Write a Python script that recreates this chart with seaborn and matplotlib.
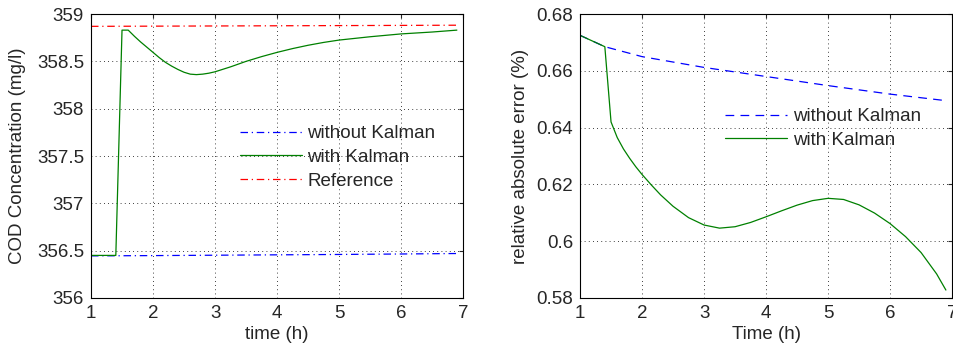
import numpy as np
import pandas as pd
import seaborn as sns
import matplotlib.pyplot as plt

# COD concentration (left panel)
t_cod = [1.0, 1.4, 1.5, 1.6, 1.7, 1.8, 1.9, 2.0, 2.1, 2.2, 2.3, 2.4, 2.5, 2.6, 2.7, 2.8, 2.9, 3.0, 3.25, 3.5,
         3.75, 4.0, 4.25, 4.5, 4.75, 5.0, 5.5, 6.0, 6.5, 6.9]
cod_kalman = [356.45, 356.45, 358.83, 358.83, 358.765, 358.705, 358.65, 358.595, 358.54, 358.49, 358.45, 358.415, 358.385,
              358.365, 358.36, 358.365, 358.375, 358.39, 358.442, 358.50, 358.55, 358.595, 358.635, 358.67, 358.70,
              358.725, 358.76, 358.79, 358.81, 358.83]
t_line = [1.0, 2.0, 3.0, 4.0, 5.0, 6.0, 6.9]
cod_without = [356.445, 356.448, 356.452, 356.456, 356.46, 356.465, 356.47]
cod_reference = [358.87, 358.872, 358.874, 358.876, 358.878, 358.88, 358.882]

# relative absolute error (right panel)
t_err = [1.0, 1.4, 1.5, 1.6, 1.7, 1.8, 1.9, 2.0, 2.15, 2.3, 2.5, 2.75, 3.0, 3.25, 3.5, 3.75, 4.0, 4.25, 4.5,
         4.75, 5.0, 5.25, 5.5, 5.75, 6.0, 6.25, 6.5, 6.75, 6.9]
err_kalman = [0.6725, 0.6685, 0.642, 0.6365, 0.6325, 0.6292, 0.6262, 0.6235, 0.6198, 0.6163, 0.6123, 0.6083, 0.6057,
              0.6046, 0.6051, 0.6066, 0.6086, 0.6107, 0.6127, 0.6143, 0.6151, 0.6147, 0.6128, 0.6099, 0.6062,
              0.6016, 0.596, 0.5885, 0.5828]
t_err2 = [1.0, 1.4, 2.0, 3.0, 4.0, 5.0, 6.0, 6.9]
err_without = [0.6725, 0.6685, 0.665, 0.6612, 0.658, 0.6548, 0.6518, 0.6495]

sns.set_style("white")
plt.rcParams['font.family'] = ['Liberation Sans', 'DejaVu Sans']
fs = 13.5

fig = plt.figure(figsize=(9.54, 3.51), dpi=100)
ax1 = fig.add_axes([0.0954, 0.151, 0.39, 0.809])
ax2 = fig.add_axes([0.608, 0.151, 0.39, 0.809])

sns.lineplot(x=t_line, y=cod_without, ax=ax1, color='blue', lw=0.9, label='without Kalman')
sns.lineplot(x=t_cod, y=cod_kalman, ax=ax1, color='green', lw=0.9, label='with Kalman')
sns.lineplot(x=t_line, y=cod_reference, ax=ax1, color='red', lw=0.9, label='Reference')
ax1.lines[0].set_dashes([6, 3, 1, 3])
ax1.lines[2].set_dashes([6, 3, 1, 3])
ax1.set_ylim(356, 359)
ax1.set_yticks([356, 356.5, 357, 357.5, 358, 358.5, 359])
ax1.set_yticklabels(['356', '356.5', '357', '357.5', '358', '358.5', '359'])
ax1.set_xlabel('time (h)')
ax1.set_ylabel('COD Concentration (mg/l)')

sns.lineplot(x=t_err2, y=err_without, ax=ax2, color='blue', lw=0.9, label='without Kalman')
sns.lineplot(x=t_err, y=err_kalman, ax=ax2, color='green', lw=0.9, label='with Kalman')
ax2.lines[0].set_dashes([7, 5])
ax2.set_ylim(0.58, 0.68)
ax2.set_yticks([0.58, 0.6, 0.62, 0.64, 0.66, 0.68])
ax2.set_yticklabels(['0.58', '0.6', '0.62', '0.64', '0.66', '0.68'])
ax2.set_xlabel('Time (h)')
ax2.set_ylabel('relative absolute error (%)')

for ax in (ax1, ax2):
    ax.set_xlim(1, 7)
    ax.set_xticks(range(1, 8))
    ax.grid(True, color='black', linestyle=(0, (1, 4)), lw=0.6)
    ax.tick_params(direction='in', length=3, top=True, right=True, labelsize=fs, pad=5)
    for s in ax.spines.values():
        s.set_color('black')
        s.set_linewidth(0.8)
    ax.xaxis.label.set_size(fs)
    ax.yaxis.label.set_size(fs)
    ax.xaxis.labelpad = 3

ax1.yaxis.labelpad = 8
ax2.yaxis.labelpad = 5

ax1.legend(frameon=False, loc='upper left', bbox_to_anchor=(0.38, 0.635), fontsize=fs,
           handlelength=3.3, handletextpad=0.3, labelspacing=0.35, borderaxespad=0)
ax2.legend(frameon=False, loc='upper left', bbox_to_anchor=(0.37, 0.695), fontsize=fs,
           handlelength=3.3, handletextpad=0.3, labelspacing=0.35, borderaxespad=0)

fig.savefig('out.png', dpi=100)
